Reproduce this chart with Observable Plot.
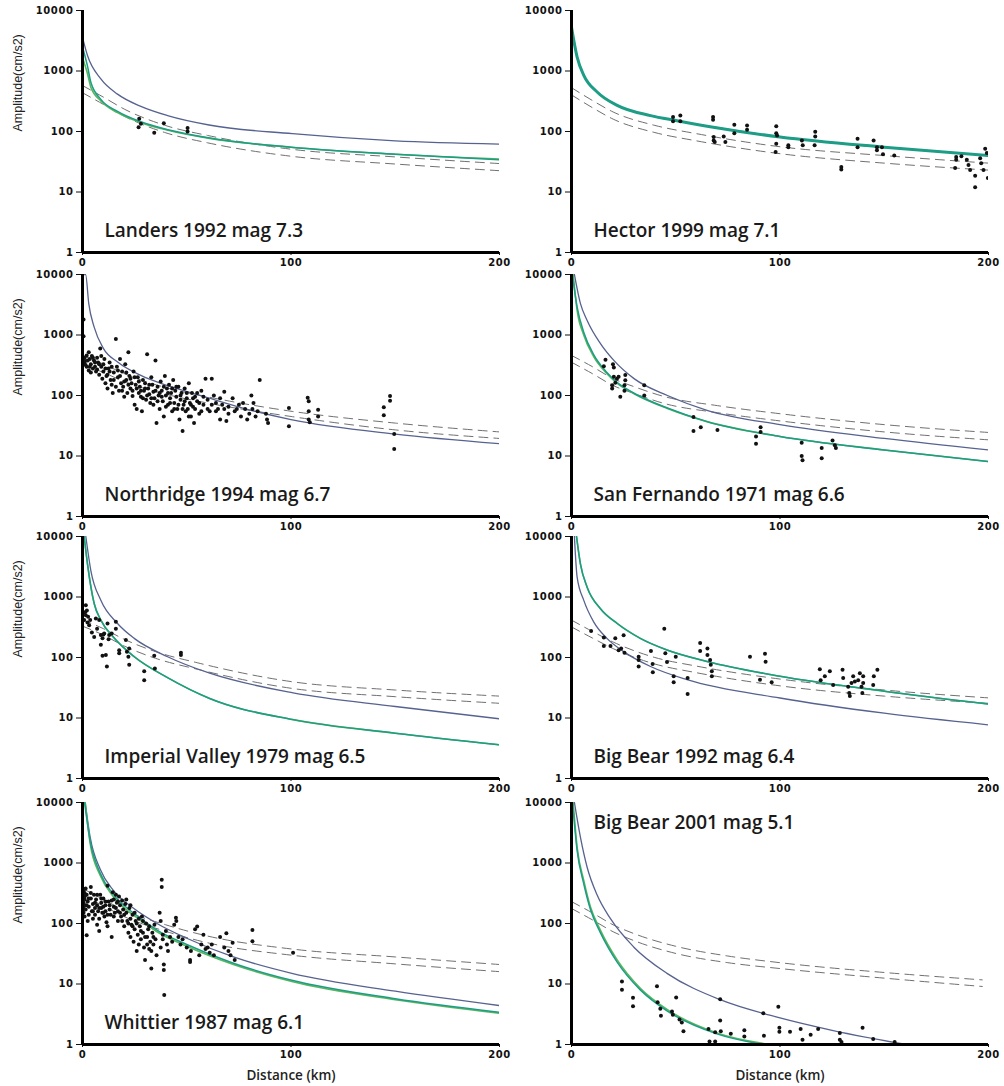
<!DOCTYPE html>
<html>
<head>
<meta charset="utf-8">
<script src="https://cdn.jsdelivr.net/npm/d3@7"></script>
<script src="https://cdn.jsdelivr.net/npm/@observablehq/plot@0.6"></script>
<style>
  body { margin: 0; background: #fff; }
  #wrap { position: relative; width: 1004px; height: 1086px; overflow: hidden; background: #fff; }
  #wrap svg { position: absolute; }
  g[aria-label="y-axis tick label"] text, g[aria-label="x-axis tick label"] text { letter-spacing: 0.6px; }
  g[aria-label="title"] text { letter-spacing: 1.0px; }
  g[aria-label="xlabel"] text { letter-spacing: 1.2px; }
  g[aria-label="ylabel"] text { letter-spacing: 0.2px; }
</style>
</head>
<body>
<div id="wrap"></div>
<script>
// ---------------- data (distance km, amplitude cm/s2) ----------------
const titles = ["Landers 1992 mag 7.3", "Hector 1999 mag 7.1", "Northridge 1994 mag 6.7", "San Fernando 1971 mag 6.6",
  "Imperial Valley 1979 mag 6.5", "Big Bear 1992 mag 6.4", "Whittier 1987 mag 6.1", "Big Bear 2001 mag 5.1"];
const yTicks = [1, 10, 100, 1000, 10000];
const xTicks = [0, 100, 200];
const yLabel = "Amplitude(cm/s2)";
const xLabel = "Distance (km)";

// Landers
const landersBlue = [[0,3600],[2.4,1800],[8.8,740],[16.8,415],[28,260],[40.8,183],[60.7,128],[100.7,92],[150,70],[200,62]];
const landersTeal = [[0,2500],[2.4,1200],[4,650],[8.8,340],[16.8,215],[28,145],[41,107],[61,78],[100,55],[150,42],[200,34]];
const landersGreen = [[0,1650],[2.4,900],[4,540],[8.8,320],[16.8,205],[28,140],[41,105],[61,77],[100,55],[150,42],[200,35]];
const landersDashHi = [[0,575],[10,370],[20,235],[40,125],[60,86],[100,51],[150,38],[200,29.5]];
const landersDashLo = [[0,437],[10,281],[20,179],[40,95],[60,65],[100,39],[150,29],[200,22.5]];
const landersPts = [[27.2,162],[26.9,117],[28,134],[34.4,95],[39,137],[50.4,114],[50.4,100]];

// Hector
const hectorModel = [[0,5300],[2.7,1700],[5.9,850],[12.3,450],[21.9,270],[37.9,183],[50.6,151],[68,118],[100,81],[150,55],[200,40]];
const hectorDashHi = [[0,530],[10,326],[20,210],[40,126],[60,92],[100,56],[150,40],[200,30]];
const hectorDashLo = [[0,403],[10,248],[20,160],[40,96],[60,70],[100,43],[150,30],[200,23]];
const hectorPts = [[48.7,173],[48.7,148],[52.2,183],[52.2,148],[67.9,173],[67.9,157],[68.2,81],[68.2,71],[68.7,67],[73,83],
  [73.8,67],[78.1,129],[78.1,94],[84.2,126],[84.2,107],[98.2,122],[98.2,94],[98.6,86],[98.2,63],[97.9,46],[104,59],[104,55],
  [110.5,71],[110.9,59],[116.9,99],[116.9,83],[116.6,59],[129.4,26],[129.4,23.5],[137.2,76],[137.2,55],[144.9,71],[146.5,55],
  [146.5,49],[148.9,55],[149.4,42],[154.8,40],[184.5,38],[184.5,34],[184,25],[189.6,34],[190.4,28],[191.2,23],[193.6,18.5],
  [193.6,12],[196,36],[196.5,30],[197.6,23],[198.4,52],[199.2,44],[199.7,17],[187,39]];

// Northridge
const northridgeModel = [[0,10000],[1.5,10000],[3,3300],[5.6,1350],[10,600],[17,355],[28,215],[41,145],[60,92],[80,58],[100,40],[150,23],[200,16]];
const northridgeDashHi = [[0,460],[10,330],[20,230],[40,135],[60,95],[100,55],[150,35],[200,25]];
const northridgeDashLo = [[0,330],[10,240],[20,170],[40,105],[60,75],[100,45],[150,27],[200,19.5]];
const northridgePts = [[0.5,1800],[0.5,950],[1,420],[1,350],[1.5,320],[2,300],[0.8,380],[2,460],
  [3,520],[3.5,400],[4,330],[4.5,450],[5,280],[5.5,380],[6,300],[6.5,250],[7,420],[7.5,350],[3,260],[8,220],
  [8.5,600],[9,300],[9.5,190],[10,250],[10.5,400],[11,160],[11.5,210],[12,130],[12.5,280],[13,350],[13.5,180],[14,150],[14.5,110],[15,240],
  [16,860],[16.5,300],[17,200],[17.5,120],[18,400],[18.5,160],[19,250],[19.5,140],[20,95],[20.5,330],[21,180],[21.5,110],[22,520],[22.5,210],[23,130],[23.5,160],[24,98],[24.5,250],[25,70],
  [25.5,150],[26,60],[26.5,200],[27,110],[27.5,140],[28,95],[28.5,55],[29,180],[29.5,120],[30,160],[30.5,85],[31,480],[31.5,130],[32,105],[32.5,75],[33,200],[33.5,150],[34,115],[34.5,90],[35,380],
  [35.5,35],[36,140],[36.5,100],[37,60],[37.5,170],[38,120],[38.5,80],[39,45],[39.5,210],[40,100],[40.5,130],[41,70],[41.5,150],[42,90],[42.5,110],[43,55],[43.5,180],[44,75],[44.5,120],[45,95],
  [45.5,60],[46,140],[46.5,40],[47,85],[47.5,110],[48,26],[48.5,70],[49,130],[49.5,55],[50,90],[50.5,60],[51,160],[51.5,75],[52,45],[52.5,110],[53,65],[53.5,35],[54,95],[55,80],[56,50],[57,120],[58,70],[59,190],[60,85],
  [61,55],[62,190],[63,100],[64,75],[65,60],[66,40],[67,70],[68,115],[69,38],[70,65],[72,90],[73,55],[75,70],[76,45],[78,60],[79,40],[80,50],
  [81,100],[81.5,60],[82,75],[83,45],[84,55],[85,180],[88,50],[88.5,40],[89,35],
  [99,62],[99,31],[108,92],[108.5,80],[108.5,55],[108.5,40],[109,36],[113,58],[113,45],[144.5,64],[144.5,47],[147.5,98],[147.5,82],[149.5,23],[149.5,13],
  [2.5,380],[3.5,300],[4,240],[5,420],[6,350],[7,270],[8,330],[9,450],[10,330],[11,280],[12,220],[13,250],[14,300],[15,180],[16,140],[17,260],
  [18,210],[19,120],[20,170],[21,240],[22,150],[23,190],[24,120],[25,200],[26,130],[27,170],[28,120],[29,90],[30,130],[31,100],[32,150],[33,90],
  [34,70],[35,120],[36,80],[37,110],[38,95],[39,140],[40,65],[41,110],[42,75],[43,130],[44,60],[45,140],[46,70],[47,100],[48,60],[49,80],[50,110],
  [51,45],[52,70],[53,90],[54,60],[55,110],[56,75],[57,55],[58,95],[60,60],[62,70],[64,55],[66,90],[68,60],[70,50],[74,60],[77,75]];

// San Fernando
const sanFernandoBlue = [[1.4,10000],[4.3,3300],[7.5,1740],[13.9,720],[20.3,380],[30,190],[46,100],[65,57],[100,33],[150,19.5],[200,12.6]];
const sanFernandoTeal = [[0.4,10000],[2.7,2900],[5.9,1100],[10.7,470],[17,240],[22,163],[30,109],[46,62],[65,37],[100,21],[150,12.6],[200,8.1]];
const sanFernandoGreen = [[0.8,10000],[2.7,2560],[5.9,990],[10.7,435],[17,230],[22,158],[30,107],[46,61],[65,37],[100,21],[150,12.6],[200,8.1]];
const sanFernandoDashHi = [[0,460],[10,300],[20,190],[30,140],[45,95],[70,68],[100,50],[150,33],[200,24.5]];
const sanFernandoDashLo = [[0,355],[10,230],[20,146],[30,108],[45,73],[70,52],[100,38],[150,25],[200,18.5]];
const sanFernandoPts = [[16.3,390],[15.5,305],[19.9,330],[20.3,290],[20.3,205],[19.5,148],[19.5,131],[21,162],[21.8,190],[22.6,205],
  [23.4,95],[25.8,218],[25.8,179],[25.4,148],[25.4,120],[34.9,148],[34.9,100],[58.5,44],[58.5,26],[62,30],[70,27],[88.5,21],
  [88.5,16],[90.7,30],[90.7,25],[110.4,16.6],[110.4,10],[110.8,8.5],[120,13.5],[120,9.2],[125.2,18],[126.3,15],[126.8,13.5]];

// Imperial Valley
const imperialBlue = [[1.6,10000],[4,2740],[8.8,880],[16.8,365],[24.8,207],[40.8,103],[61,55],[101,26],[150,15.5],[200,9.7]];
const imperialGreen = [[0.8,10000],[2.4,3500],[5.6,780],[8.8,415],[15.2,210],[24.8,103],[41,46],[61,21],[101,9.4],[150,5.6],[200,3.6]];
const imperialDashHi = [[0,420],[10,300],[20,200],[35,125],[55,82],[100,40],[150,29],[200,23]];
const imperialDashLo = [[0,330],[10,235],[20,155],[35,97],[55,64],[100,31],[150,22.5],[200,17.5]];
const imperialPts = [[1.6,730],[2.1,600],[1.6,500],[2.7,470],[0.8,415],[3.7,415],[3.2,340],[5.6,218],[6.4,440],[8,415],
  [8.8,235],[9.6,208],[10.4,250],[8.8,162],[9.6,107],[11.2,110],[12,365],[12.8,235],[11.7,71],[16,390],[16,300],[17.6,132],
  [17.6,118],[20.8,195],[21.3,125],[22.4,141],[22,103],[22.4,76],[29.6,59],[29.6,42],[34.4,107],[34.7,66],[47.2,120],[47.2,110],
  [1.2,560],[2.4,380],[4.5,260],[7,300],[10,240],[12.5,200],[14,250]];

// Big Bear 1992
const bigBear92Blue = [[1.4,10000],[2.7,2130],[5.9,880],[10.7,385],[17,207],[25,125],[37.9,71],[55.4,43],[100,21.4],[150,12],[200,7.7]];
const bigBear92Green = [[2.4,10000],[4.3,3500],[7.5,1450],[13.9,640],[21.9,365],[33,207],[45.8,133],[65,86],[100,49],[150,27.7],[200,17]];
const bigBear92DashHi = [[0,415],[10,270],[20,180],[40,100],[60,72],[100,44],[150,29],[200,21.5]];
const bigBear92DashLo = [[0,320],[10,210],[20,140],[40,78],[60,56],[100,34],[150,23],[200,17.5]];
const bigBear92Pts = [[9.4,273],[15.5,214],[15.5,155],[18.7,155],[21,208],[22.6,132],[23.8,141],[25,234],[25.4,120],[32.2,103],
  [32.2,91],[32.2,71],[38.1,128],[38.9,78],[39,57],[44.5,300],[45,117],[45.8,84],[50,103],[49,49],[49,39],[55.7,46],[55.7,25],
  [61.7,174],[61.7,128],[65.2,141],[65.2,110],[66.5,91],[66.8,76],[67.3,59],[67.3,49],[85.6,103],[90.4,43],[92.8,115],[93.1,85],
  [96,39],[119.1,64],[119.5,42],[121.5,49],[123.9,59],[125.5,35],[130,63],[130.3,46],[132.7,33],[133.2,26],[133.5,23],[134.3,38],
  [135.1,49],[135.9,40],[137.5,42],[138.3,55],[139.1,33],[139.9,49],[139.9,38],[139.5,26],[144.7,35],[145,49],[146.7,63]];

// Whittier
const whittierBlue = [[1.3,10000],[3.7,2650],[8.5,790],[14.9,350],[24.5,178],[35.7,100],[50,57],[72.4,28],[100.4,15],[150,7.6],[200,4.4]];
const whittierTeal = [[1.0,10000],[3.7,2300],[8.5,680],[14.9,300],[24.5,148],[35.7,78],[50,45],[72.4,22],[100.4,11.5],[150,5.7],[200,3.4]];
const whittierGreen = [[1.3,10000],[3.7,2070],[8.5,620],[14.9,275],[24.5,137],[35.7,73],[50,42],[72.4,21],[100.4,11],[150,5.5],[200,3.3]];
const whittierDashHi = [[0,380],[10,250],[20,165],[40,95],[60,62],[100,38],[150,28],[200,21]];
const whittierDashLo = [[0,300],[10,195],[20,130],[40,74],[60,48],[100,30],[150,21.5],[200,16]];
const whittierPts = [[0.5,350],[0.5,280],[0.5,220],[0.5,180],[0.5,150],[1,320],[1,250],[1,200],[1,130],[1.5,380],[1.5,170],[2,64],[2,300],[2.5,230],[3,190],[3,140],[2.5,110],
  [4,400],[4,260],[4.5,160],[5,210],[5,120],[5.5,300],[6,180],[6,140],[6.5,250],[7,200],[7,95],[7.5,160],[8,120],[8,75],
  [8.5,300],[9,220],[9,180],[9.5,150],[10,260],[10,190],[10.5,130],[11,200],[11,160],[11.5,105],[12,90],[12,420],[12.5,230],[13,170],[13.5,140],[14,60],
  [14.5,330],[15,250],[15,190],[15.5,150],[16,300],[16.5,220],[17,160],[17,110],[17.5,280],[18,200],[18.5,130],[19,240],[19.5,170],[20,90],
  [20.5,210],[21,150],[21.5,110],[22,70],[22.5,180],[23,120],[23,60],[23.5,95],[24,140],[24.5,50],[25,80],[25.5,110],[26,35],[26.5,65],[27,45],[27.5,90],[28,55],
  [28.5,130],[29,70],[29.5,40],[30,25],[30.5,100],[31,60],[31.5,80],[32,38],[32.5,50],[33,18],[33.5,70],[34,45],[34.5,95],[35,55],[35.5,30],
  [37,150],[37.5,110],[37.5,40],[38,530],[38,400],[38.5,65],[38.5,55],[39,21],[39,17],[39.2,6.6],[40,75],[40.5,45],[41,35],[42,60],[43,50],[44,95],
  [44.8,125],[45,110],[46,60],[47,45],[48,55],[50,40],[51.6,25],[51.6,23],[52,35],[54,80],[55,89],[56,30],[57,45],[58,65],[59,38],[60,40],[61,33],[62,45],[63,30],
  [66,60],[68,40],[69,69],[70,35],[71,30],[72,48],[73,25],[81.5,78],[81.5,51],[101,33],
  [1,280],[2,200],[3,260],[4,320],[5,160],[6,220],[7,300],[8,180],[9,260],[10,150],[11,230],[12,140],[13,200],[14,240],[15,130],[16,180],
  [17,230],[18,150],[19,110],[20,140],[21,250],[22,100],[23,200],[24,90],[25,150],[26,100],[27,120],[28,75],[29,110],[30,60],[31,45],[32,90],[33,35],[34,60]];

// Big Bear 2001
const bigBear01Blue = [[1.4,10000],[4.3,2650],[7.5,850],[12.3,295],[18.7,120],[29.8,41],[45.8,15],[71.3,5.5],[100,2.75],[125.5,1.7],[160.6,1]];
const bigBear01Teal = [[0.5,10000],[2.7,1600],[5.9,450],[9.1,170],[13.9,70],[21.9,23],[33,8],[45.8,3.6],[69.7,1.5],[92,1]];
const bigBear01Green = [[0.8,10000],[2.7,1820],[5.9,510],[9.1,187],[13.9,77],[21.9,25],[33,8.5],[45.8,3.8],[69.7,1.55],[95.2,1]];
const bigBear01DashHi = [[0,230],[10,150],[20,95],[30,68],[50,42],[75,29],[100,22.5],[150,15.5],[197,11.7]];
const bigBear01DashLo = [[0,177],[10,115],[20,73],[30,52],[50,32],[75,22.5],[100,18],[150,12.5],[197,9.1]];
const bigBear01Pts = [[24.2,11],[24.2,8],[29.5,5.9],[29.5,4.3],[41,9.2],[41.3,5],[42.6,3.9],[42.9,3],[48.2,3.5],[48.6,3.1],
  [50.2,6],[51.8,2.6],[52.9,2.3],[53.7,1.66],[65.7,1.8],[66.2,1.12],[68.9,1.12],[68.9,1.6],[71.3,5.6],[71.3,2.5],[71.6,1.65],
  [76.4,1.5],[82.9,1.72],[82.9,1.35],[92,3.3],[92.3,1.4],[99.2,4.2],[99.7,1.9],[99.7,1.62],[104.8,1.62],[109.9,1.8],[110.8,1.2],
  [114.7,1.45],[118.3,1.8],[128.7,1.55],[128.7,1.2],[129.5,1.1],[139.6,1.9],[144.7,1.23],[155,1.1]];

// ---------------- panel assembly ----------------
const panels = [
  {blue: landersBlue, teal: landersTeal, green: landersGreen, hi: landersDashHi, lo: landersDashLo, pts: landersPts},
  {blue: hectorModel, teal: hectorModel, green: hectorModel, hi: hectorDashHi, lo: hectorDashLo, pts: hectorPts},
  {blue: northridgeModel, teal: null, green: null, hi: northridgeDashHi, lo: northridgeDashLo, pts: northridgePts},
  {blue: sanFernandoBlue, teal: sanFernandoTeal, green: sanFernandoGreen, hi: sanFernandoDashHi, lo: sanFernandoDashLo, pts: sanFernandoPts},
  {blue: imperialBlue, teal: imperialGreen, green: imperialGreen, hi: imperialDashHi, lo: imperialDashLo, pts: imperialPts},
  {blue: bigBear92Blue, teal: bigBear92Green, green: bigBear92Green, hi: bigBear92DashHi, lo: bigBear92DashLo, pts: bigBear92Pts},
  {blue: whittierBlue, teal: whittierTeal, green: whittierGreen, hi: whittierDashHi, lo: whittierDashLo, pts: whittierPts},
  {blue: bigBear01Blue, teal: bigBear01Teal, green: bigBear01Green, hi: bigBear01DashHi, lo: bigBear01DashLo, pts: bigBear01Pts}
];

const rowTops = [10, 274, 536, 802];
const BLUE = "#56628f", TEAL = "#1d9c86", GREEN = "#5ab65c", DASH = "#707070";
const wrap = document.getElementById("wrap");

panels.forEach((p, i) => {
  const col = i % 2, row = Math.floor(i / 2);
  const T = rowTops[row];
  const last = row === 3;
  const mb = last ? 44 : 24;
  const lineOpts = (stroke, w) => ({x: d => d[0], y: d => d[1], stroke, strokeWidth: w, curve: "monotone-x", clip: true});
  const marks = [
    Plot.line(p.hi, {...lineOpts(DASH, 1), strokeDasharray: "9,6"}),
    Plot.line(p.lo, {...lineOpts(DASH, 1), strokeDasharray: "9,6"}),
    Plot.line(p.blue, lineOpts(BLUE, 1.3))
  ];
  if (p.green) marks.push(Plot.line(p.green, lineOpts(GREEN, 1.6)));
  if (p.teal) marks.push(Plot.line(p.teal, lineOpts(TEAL, i === 1 ? 3 : 1.5)));
  marks.push(
    Plot.dot(p.pts, {x: d => d[0], y: d => d[1], r: 2, fill: "#111", stroke: "none", clip: true}),
    Plot.axisY(yTicks, {tickSize: 6, tickPadding: 3, tickFormat: d => String(d), fontSize: 10, fontWeight: "bold", fontFamily: "DejaVu Sans", label: null, color: "#111"}),
    Plot.axisX(xTicks, {tickSize: 3, tickPadding: 3, tickFormat: d => String(d), fontSize: 10, fontWeight: "bold", fontFamily: "DejaVu Sans", label: null, color: "#111"}),
    Plot.ruleX([0], {stroke: "#000", strokeWidth: 3}),
    Plot.ruleY([1], {stroke: "#000", strokeWidth: 3}),
    Plot.text([titles[i]], {
      text: d => d,
      frameAnchor: i === 7 ? "top-left" : "bottom-left",
      dx: 22, dy: i === 7 ? 26 : -16,
      textAnchor: "start", lineAnchor: "bottom",
      fontSize: 19, fontWeight: 600, fontFamily: "Open Sans", fill: "#1a1a1a", ariaLabel: "title"
    })
  );
  if (col === 0) {
    marks.push(Plot.text([yLabel], {text: d => d, frameAnchor: "left", dx: -65, rotate: -90,
      fontSize: 12.5, fontFamily: "Liberation Sans, Arial, sans-serif", fill: "#222", ariaLabel: "ylabel"}));
  }
  if (last) {
    marks.push(Plot.text([xLabel], {text: d => d, frameAnchor: "bottom", dy: 35, lineAnchor: "bottom",
      fontSize: 13.5, fontWeight: 600, fontFamily: "Open Sans", fill: "#222", ariaLabel: "xlabel"}));
  }
  const chart = Plot.plot({
    width: 510, height: 10 + 242 + mb,
    marginLeft: 82, marginRight: 11, marginTop: 10, marginBottom: mb,
    style: {background: "transparent", overflow: "visible"},
    x: {domain: [0, 200], axis: null},
    y: {type: "log", domain: [1, 10000], axis: null},
    marks
  });
  chart.style.left = (col ? 489 : 0) + "px";
  chart.style.top = (T - 10) + "px";
  wrap.appendChild(chart);
});
</script>
</body>
</html>
